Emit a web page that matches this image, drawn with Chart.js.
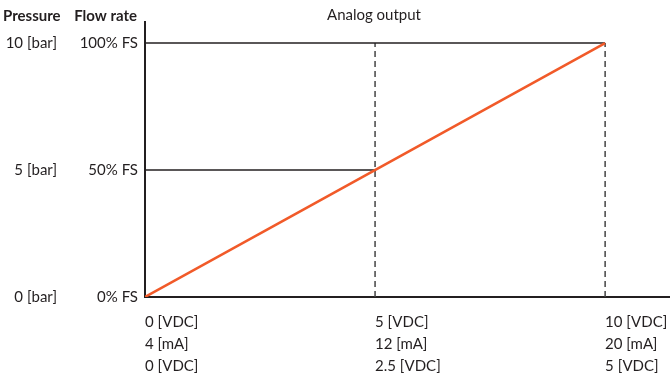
<!DOCTYPE html>
<html>
<head>
<meta charset="utf-8">
<script src="https://cdn.jsdelivr.net/npm/chart.js@4/dist/chart.umd.min.js"></script>
<style>
  body { margin: 0; background: #fff; }
  canvas { display: block; }
</style>
</head>
<body>
<canvas id="chartAnalog" width="670" height="382"></canvas>
<script>
// Valores do gráfico
const xTicks = [0, 5, 10];
const voltageLabels = ['0 [VDC]', '5 [VDC]', '10 [VDC]'];
const currentLabels = ['4 [mA]', '12 [mA]', '20 [mA]'];
const halfVoltageLabels = ['0 [VDC]', '2.5 [VDC]', '5 [VDC]'];

const yTicks = [0, 50, 100];
const pressureLabels = ['0 [bar]', '5 [bar]', '10 [bar]'];
const flowLabels = ['0% FS', '50% FS', '100% FS'];

const outputX = [0, 10];
const outputY = [0, 100];

const INK = '#231f20';
const FONT = 'Lato';
const SIZE = 15;

// linhas de referência: horizontais até a reta, verticais tracejadas
function refDatasets() {
    const sets = [];
    yTicks.filter(v => v > 0).forEach(v => {
        const xEnd = outputX[0] + (v - outputY[0]) * (outputX[1] - outputX[0]) / (outputY[1] - outputY[0]);
        sets.push({ yAxisID: 'yF', data: [{ x: 0, y: v }, { x: xEnd, y: v }], borderColor: INK, borderWidth: 1.5 });
    });
    xTicks.filter(v => v > 0).forEach(v => {
        sets.push({ yAxisID: 'yF', data: [{ x: v, y: 0 }, { x: v, y: 100 }], borderColor: '#444', borderWidth: 1.5, borderDash: [6, 4] });
    });
    return sets;
}

const headers = {
    id: 'headers',
    afterDraw(chart) {
        const ctx = chart.ctx;
        const yP = chart.scales.yP, yF = chart.scales.yF;
        ctx.save();
        ctx.fillStyle = INK;
        ctx.textBaseline = 'middle';
        ctx.font = `bold ${SIZE}px ${FONT}`;
        ctx.textAlign = 'left';
        ctx.fillText('Pressure', yP.left + 3, 16);
        ctx.textAlign = 'right';
        ctx.fillText('Flow rate', yF.right - 8, 16);
        ctx.font = `${SIZE}px ${FONT}`;
        ctx.textAlign = 'center';
        ctx.fillText('Analog output', 374, 15);
        ctx.restore();
    }
};

const fixedTicks = (vals) => (scale) => { scale.ticks = vals.map(v => ({ value: v })); };

new Chart(document.getElementById('chartAnalog'), {
    type: 'line',
    data: {
        datasets: [
            { yAxisID: 'yF', data: outputX.map((x, i) => ({ x, y: outputY[i] })), borderColor: '#f15a29', borderWidth: 2.5 },
            ...refDatasets()
        ]
    },
    options: {
        responsive: false,
        animation: false,
        elements: { point: { radius: 0 }, line: { tension: 0 } },
        layout: { padding: { top: 22, bottom: 5, left: 0, right: 0 } },
        plugins: { legend: { display: false }, tooltip: { enabled: false }, title: { display: false } },
        scales: {
            x: {
                type: 'linear', min: 0, max: 11.41,
                afterBuildTicks: fixedTicks(xTicks),
                // altura fixa e sem folga lateral para o eixo chegar à borda
                afterFit: (s) => { s.height = 80; s.paddingRight = 0; s.paddingLeft = 0; },
                grid: { display: false, drawTicks: false },
                border: { display: true, color: INK, width: 2 },
                ticks: {
                    align: 'start', padding: 14, maxRotation: 0, autoSkip: false, color: INK,
                    font: { family: FONT, size: SIZE, lineHeight: 22 / SIZE },
                    callback: (v) => {
                        const i = xTicks.indexOf(v);
                        return [voltageLabels[i], currentLabels[i], halfVoltageLabels[i]];
                    }
                }
            },
            yF: {
                type: 'linear', position: 'left', weight: 0, min: 0, max: 108.3,
                afterBuildTicks: fixedTicks(yTicks),
                afterFit: (s) => { s.width = 83; },
                grid: { display: false, drawTicks: false },
                border: { display: true, color: INK, width: 2 },
                ticks: { padding: 7, color: INK, font: { family: FONT, size: SIZE }, callback: (v) => flowLabels[yTicks.indexOf(v)] }
            },
            yP: {
                type: 'linear', position: 'left', weight: 1, min: 0, max: 108.3,
                afterBuildTicks: fixedTicks(yTicks),
                afterFit: (s) => { s.width = 62; },
                grid: { display: false, drawTicks: false },
                border: { display: false },
                ticks: { padding: 5, color: INK, font: { family: FONT, size: SIZE }, callback: (v) => pressureLabels[yTicks.indexOf(v)] }
            }
        }
    },
    plugins: [headers]
});
</script>
</body>
</html>
